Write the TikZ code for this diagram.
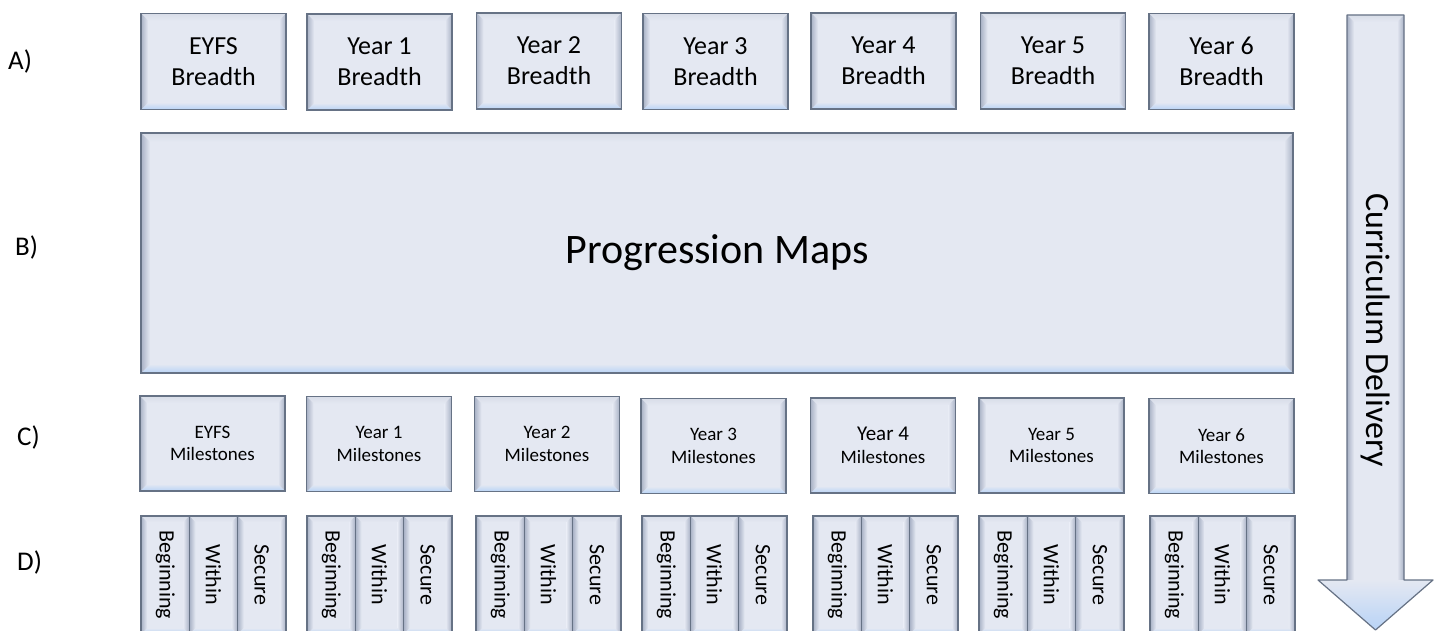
\documentclass[tikz,border=0pt]{standalone}
\usepackage{fontspec}
\setmainfont{Carlito}
\definecolor{boxfill}{HTML}{E4E8F2}
\definecolor{boxline}{HTML}{667285}
\definecolor{boxside}{HTML}{A8B1C5}
\definecolor{boxtop}{HTML}{D8DDE8}
\definecolor{boxlow}{HTML}{B8D3F6}

\begin{document}
\begin{tikzpicture}[x = 1pt, y = -1pt,
  bevel/.style = {draw = boxline, line width = 1.2pt, fill = boxfill, inner sep = 0pt, align = center,
    path picture = {
      \path (path picture bounding box.north west) coordinate (pa)
            (path picture bounding box.north east) coordinate (pb)
            (path picture bounding box.south east) coordinate (pc)
            (path picture bounding box.south west) coordinate (pd);
      \shade[top color = boxtop, bottom color = boxfill] (pa) -- (pb) -- ([shift = {(-#1,-#1)}]pb) -- ([shift = {(#1,-#1)}]pa) -- cycle;
      \shade[top color = boxfill, bottom color = boxlow] (pd) -- (pc) -- ([shift = {(-#1,#1)}]pc) -- ([shift = {(#1,#1)}]pd) -- cycle;
      \shade[left color = boxside, right color = boxfill] (pa) -- (pd) -- ([shift = {(#1,#1)}]pd) -- ([shift = {(#1,-#1)}]pa) -- cycle;
      \shade[left color = boxfill, right color = boxside] (pb) -- (pc) -- ([shift = {(-#1,#1)}]pc) -- ([shift = {(-#1,-#1)}]pb) -- cycle;
    }},
  bevel/.default = 7pt,
  breadth/.style = {bevel, minimum width = 145pt, minimum height = 96pt, font = \fontsize{26}{31}\selectfont},
  mile/.style = {bevel, minimum width = 145pt, minimum height = 95pt, font = \fontsize{19}{22.5}\selectfont},
  stage/.style = {bevel = 6pt, minimum width = 48.3pt, minimum height = 118pt, font = \fontsize{22}{26}\selectfont},
  rowlabel/.style = {anchor = base west, inner sep = 0pt, font = \fontsize{27}{32}\selectfont}]
\useasboundingbox (0, 0) rectangle (1437, 631);

\node (la) [rowlabel] at (8, 70) {A)};
\node (lb) [rowlabel] at (15, 255) {B)};
\node (lc) [rowlabel] at (17, 445) {C)};
\node (ld) [rowlabel] at (17, 570) {D)};

\node (a0) [breadth] at (213.5, 61.5) {EYFS\\Breadth};
\node (a1) [breadth] at (379.5, 62) {Year 1\\Breadth};
\node (a2) [breadth] at (549, 61) {Year 2\\Breadth};
\node (a3) [breadth] at (715.5, 61.5) {Year 3\\Breadth};
\node (a4) [breadth] at (883.5, 61) {Year 4\\Breadth};
\node (a5) [breadth] at (1053, 61) {Year 5\\Breadth};
\node (a6) [breadth] at (1221.5, 61.5) {Year 6\\Breadth};

\node (maps) [bevel = 9pt, minimum width = 1152pt, minimum height = 240pt, font = \fontsize{42}{50}\selectfont] at (717, 253) {Progression Maps};

\node (c0) [mile] at (212.5, 443.5) {EYFS\\Milestones};
\node (c1) [mile] at (379, 444) {Year 1\\Milestones};
\node (c2) [mile] at (547, 444) {Year 2\\Milestones};
\node (c3) [mile] at (713.5, 446) {Year 3\\Milestones};
\node (c4) [mile] at (883, 445.5) {{\fontsize{21}{23}\selectfont Year 4}\\Milestones};
\node (c5) [mile] at (1051.5, 445.5) {Year 5\\Milestones};
\node (c6) [mile] at (1221.5, 446) {Year 6\\Milestones};

\foreach \x [count = \i] in {141, 307, 476, 642, 813, 979, 1150} {
  \node (b\i) [stage] at (\x + 24.2, 575) {\rotatebox{-90}{Beginning}};
  \node (w\i) [stage] at (\x + 72.5, 575) {\rotatebox{-90}{Within}};
  \node (s\i) [stage] at (\x + 120.8, 575) {\rotatebox{-90}{Secure}};
}

\fill[boxfill] (1347, 15) -- (1404, 15) -- (1404, 580) -- (1433, 580) -- (1375.5, 630) -- (1318, 580) -- (1347, 580) -- cycle;
\shade[top color = boxtop, bottom color = boxfill] (1347, 15) -- (1404, 15) -- (1397, 22) -- (1354, 22) -- cycle;
\shade[left color = boxside, right color = boxfill] (1347, 15) -- (1354, 22) -- (1354, 586) -- (1347, 580) -- cycle;
\shade[left color = boxfill, right color = boxside] (1404, 15) -- (1397, 22) -- (1397, 586) -- (1404, 580) -- cycle;
\shade[top color = boxfill, bottom color = boxlow] (1318, 580) -- (1433, 580) -- (1375.5, 630) -- cycle;
\draw[boxline, line width = 1.2pt, line join = round] (1347, 15) -- (1404, 15) -- (1404, 580) -- (1433, 580) -- (1375.5, 630) -- (1318, 580) -- (1347, 580) -- cycle;
\node (delivery) [rotate = -90, font = \fontsize{34}{40}\selectfont] at (1375.5, 330) {Curriculum Delivery};
\end{tikzpicture}
\end{document}
